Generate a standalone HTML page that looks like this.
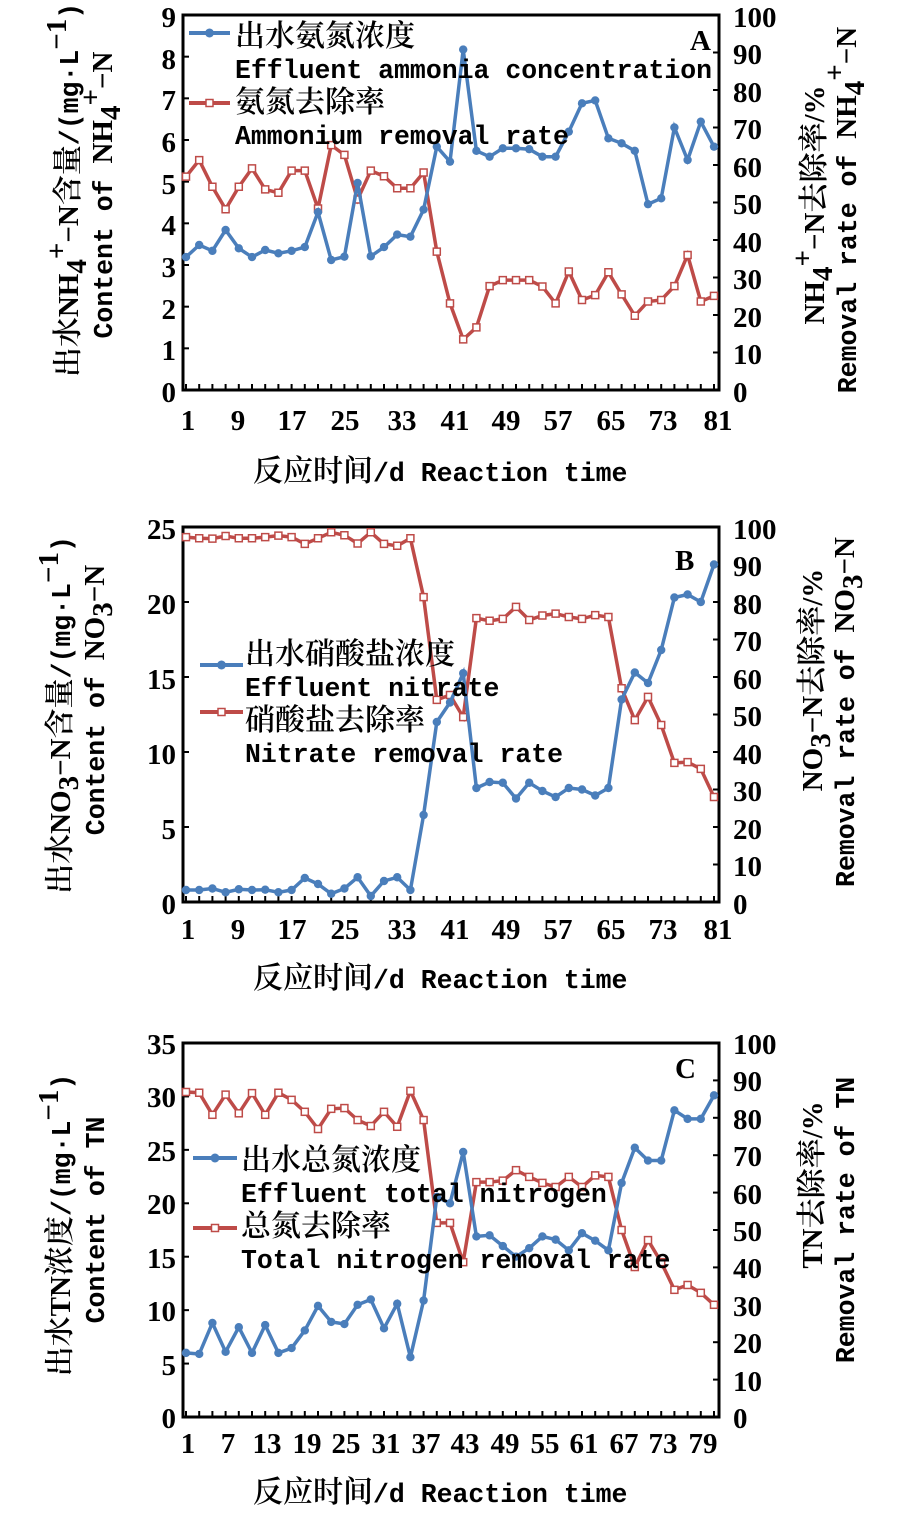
<!DOCTYPE html>
<html><head><meta charset="utf-8"><style>
body{margin:0;background:#fff}
svg text{fill:#000}
.t{font-family:"Liberation Serif",serif;font-size:29px;font-weight:bold}
.cn{font-family:"Noto Serif CJK SC","Liberation Serif",serif;font-size:30px;font-weight:600}
.en{font-family:"Liberation Mono",monospace;font-size:26.5px;font-weight:bold}
</style></head><body>
<svg id="s" width="909" height="1512" viewBox="0 0 909 1512" xmlns="http://www.w3.org/2000/svg">
<g id="plots"></g>
<g class="t" text-anchor="end">
<text x="176" y="27">9</text><text x="176" y="69">8</text><text x="176" y="110">7</text><text x="176" y="152">6</text><text x="176" y="194">5</text><text x="176" y="235">4</text><text x="176" y="277">3</text><text x="176" y="319">2</text><text x="176" y="360">1</text><text x="176" y="402">0</text>
</g>
<g class="t">
<text x="733" y="27">100</text><text x="733" y="64">90</text><text x="733" y="102">80</text><text x="733" y="139">70</text><text x="733" y="177">60</text><text x="733" y="214">50</text><text x="733" y="252">40</text><text x="733" y="289">30</text><text x="733" y="327">20</text><text x="733" y="364">10</text><text x="733" y="402">0</text>
</g>
<g class="t" text-anchor="middle">
<text x="188" y="430">1</text><text x="238" y="430">9</text><text x="292" y="430">17</text><text x="345" y="430">25</text><text x="402" y="430">33</text><text x="455" y="430">41</text><text x="506" y="430">49</text><text x="558" y="430">57</text><text x="611" y="430">65</text><text x="663" y="430">73</text><text x="718" y="430">81</text>
</g>
<text x="253" y="481"><tspan class="cn">反应时间</tspan><tspan class="en">/d Reaction time</tspan></text>
<text class="cn" x="235" y="46">出水氨氮浓度</text>
<text class="en" x="235" y="78">Effluent ammonia concentration</text>
<text class="cn" x="235" y="112">氨氮去除率</text>
<text class="en" x="235" y="144">Ammonium removal rate</text>
<text class="t" x="690" y="50">A</text>
<text transform="translate(78,190) rotate(-90)" text-anchor="middle"><tspan class="cn">出水</tspan><tspan class="t">NH</tspan><tspan class="t" font-size="17" dy="8">4</tspan><tspan class="t" font-size="17" dy="-20">+</tspan><tspan class="t" dy="12">−N</tspan><tspan class="cn">含量</tspan><tspan class="en">/(mg·L</tspan><tspan class="t" font-size="17" dy="-12">−1</tspan><tspan class="en" dy="12">)</tspan></text>
<text transform="translate(112,195) rotate(-90)" text-anchor="middle"><tspan class="en">Content of </tspan><tspan class="t">NH</tspan><tspan class="t" font-size="17" dy="8">4</tspan><tspan class="t" font-size="17" dy="-20">+</tspan><tspan class="t" dy="12">−N</tspan></text>
<text transform="translate(824,205) rotate(-90)" text-anchor="middle"><tspan class="t">NH</tspan><tspan class="t" font-size="17" dy="8">4</tspan><tspan class="t" font-size="17" dy="-20">+</tspan><tspan class="t" dy="12">−N</tspan><tspan class="cn">去除率</tspan><tspan class="t">/%</tspan></text>
<text transform="translate(856,210) rotate(-90)" text-anchor="middle"><tspan class="en">Removal rate of </tspan><tspan class="t">NH</tspan><tspan class="t" font-size="17" dy="8">4</tspan><tspan class="t" font-size="17" dy="-20">+</tspan><tspan class="t" dy="12">−N</tspan></text>

<g class="t" text-anchor="end">
<text x="176" y="539">25</text><text x="176" y="614">20</text><text x="176" y="689">15</text><text x="176" y="764">10</text><text x="176" y="839">5</text><text x="176" y="914">0</text>
</g>
<g class="t">
<text x="733" y="539">100</text><text x="733" y="576">90</text><text x="733" y="614">80</text><text x="733" y="651">70</text><text x="733" y="689">60</text><text x="733" y="726">50</text><text x="733" y="764">40</text><text x="733" y="801">30</text><text x="733" y="839">20</text><text x="733" y="876">10</text><text x="733" y="914">0</text>
</g>
<g class="t" text-anchor="middle">
<text x="188" y="939">1</text><text x="238" y="939">9</text><text x="292" y="939">17</text><text x="345" y="939">25</text><text x="402" y="939">33</text><text x="455" y="939">41</text><text x="506" y="939">49</text><text x="558" y="939">57</text><text x="611" y="939">65</text><text x="663" y="939">73</text><text x="718" y="939">81</text>
</g>
<text x="253" y="988"><tspan class="cn">反应时间</tspan><tspan class="en">/d Reaction time</tspan></text>
<text class="cn" x="245" y="664">出水硝酸盐浓度</text>
<text class="en" x="245" y="696">Effluent nitrate</text>
<text class="cn" x="245" y="730">硝酸盐去除率</text>
<text class="en" x="245" y="762">Nitrate removal rate</text>
<text class="t" x="675" y="570">B</text>
<text transform="translate(70,715) rotate(-90)" text-anchor="middle"><tspan class="cn">出水</tspan><tspan class="t">NO</tspan><tspan class="t" font-size="17" dy="8">3</tspan><tspan class="t" dy="-8">−N</tspan><tspan class="cn">含量</tspan><tspan class="en">/(mg·L</tspan><tspan class="t" font-size="17" dy="-12">−1</tspan><tspan class="en" dy="12">)</tspan></text>
<text transform="translate(104,700) rotate(-90)" text-anchor="middle"><tspan class="en">Content of </tspan><tspan class="t">NO</tspan><tspan class="t" font-size="17" dy="8">3</tspan><tspan class="t" dy="-8">−N</tspan></text>
<text transform="translate(822,680) rotate(-90)" text-anchor="middle"><tspan class="t">NO</tspan><tspan class="t" font-size="17" dy="8">3</tspan><tspan class="t" dy="-8">−N</tspan><tspan class="cn">去除率</tspan><tspan class="t">/%</tspan></text>
<text transform="translate(854,712) rotate(-90)" text-anchor="middle"><tspan class="en">Removal rate of </tspan><tspan class="t">NO</tspan><tspan class="t" font-size="17" dy="8">3</tspan><tspan class="t" dy="-8">−N</tspan></text>

<g class="t" text-anchor="end">
<text x="176" y="1054">35</text><text x="176" y="1107">30</text><text x="176" y="1161">25</text><text x="176" y="1214">20</text><text x="176" y="1268">15</text><text x="176" y="1321">10</text><text x="176" y="1375">5</text><text x="176" y="1428">0</text>
</g>
<g class="t">
<text x="733" y="1054">100</text><text x="733" y="1091">90</text><text x="733" y="1129">80</text><text x="733" y="1166">70</text><text x="733" y="1204">60</text><text x="733" y="1241">50</text><text x="733" y="1278">40</text><text x="733" y="1316">30</text><text x="733" y="1353">20</text><text x="733" y="1391">10</text><text x="733" y="1428">0</text>
</g>
<g class="t" text-anchor="middle">
<text x="188" y="1453">1</text><text x="228" y="1453">7</text><text x="267" y="1453">13</text><text x="307" y="1453">19</text><text x="346" y="1453">25</text><text x="386" y="1453">31</text><text x="426" y="1453">37</text><text x="465" y="1453">43</text><text x="505" y="1453">49</text><text x="545" y="1453">55</text><text x="584" y="1453">61</text><text x="624" y="1453">67</text><text x="663" y="1453">73</text><text x="703" y="1453">79</text>
</g>
<text x="253" y="1502"><tspan class="cn">反应时间</tspan><tspan class="en">/d Reaction time</tspan></text>
<text class="cn" x="241" y="1170">出水总氮浓度</text>
<text class="en" x="241" y="1202">Effluent total nitrogen</text>
<text class="cn" x="241" y="1236">总氮去除率</text>
<text class="en" x="241" y="1268">Total nitrogen removal rate</text>
<text class="t" x="675" y="1078">C</text>
<text transform="translate(70,1225) rotate(-90)" text-anchor="middle"><tspan class="cn">出水</tspan><tspan class="t">TN</tspan><tspan class="cn">浓度</tspan><tspan class="en">/(mg·L</tspan><tspan class="t" font-size="17" dy="-12">−1</tspan><tspan class="en" dy="12">)</tspan></text>
<text transform="translate(104,1220) rotate(-90)" text-anchor="middle" class="en">Content of TN</text>
<text transform="translate(822,1185) rotate(-90)" text-anchor="middle"><tspan class="t">TN</tspan><tspan class="cn">去除率</tspan><tspan class="t">/%</tspan></text>
<text transform="translate(854,1220) rotate(-90)" text-anchor="middle" class="en">Removal rate of TN</text>
</svg>
<script>
var NS="http://www.w3.org/2000/svg",G=document.getElementById("plots");
function el(t,a){var e=document.createElementNS(NS,t);for(var k in a)e.setAttribute(k,a[k]);G.appendChild(e);return e;}
var BL="#4a7ebb",RD="#be4b48",X0=186,DX=13.2,L=183,R=719;
function X(i){return X0+i*DX;}
function panel(top,bot,lmax,lstep,ldiv,rdiv,blue,red,legB,legR){
 el("rect",{x:L,y:top,width:R-L,height:bot-top,fill:"none",stroke:"#000","stroke-width":3});
 var h=bot-top;
 for(var j=1;j<ldiv;j++){var y=top+h*j/ldiv;el("line",{x1:L,y1:y,x2:L+6,y2:y,stroke:"#000","stroke-width":2});}
 for(var j=1;j<rdiv;j++){var y=top+h*j/rdiv;el("line",{x1:R,y1:y,x2:R-6,y2:y,stroke:"#000","stroke-width":2});}
 for(var i=0;i<41;i++){el("line",{x1:X(i),y1:bot,x2:X(i),y2:bot-6,stroke:"#000","stroke-width":2});}
 var pb=blue.map(function(v,i){return X(i)+","+(bot-v/lmax*h).toFixed(1);}).join(" ");
 var pr=red.map(function(v,i){return X(i)+","+(bot-v/100*h).toFixed(1);}).join(" ");
 el("polyline",{points:pr,fill:"none",stroke:RD,"stroke-width":3.5});
 red.forEach(function(v,i){el("rect",{x:X(i)-3.5,y:bot-v/100*h-3.5,width:7,height:7,fill:"#fff",stroke:RD,"stroke-width":1.5});});
 el("polyline",{points:pb,fill:"none",stroke:BL,"stroke-width":3.5});
 blue.forEach(function(v,i){el("circle",{cx:X(i),cy:bot-v/lmax*h,r:4.2,fill:BL});});
 el("line",{x1:legB[0],y1:legB[2],x2:legB[1],y2:legB[2],stroke:BL,"stroke-width":4});
 el("circle",{cx:(legB[0]+legB[1])/2,cy:legB[2],r:4.5,fill:BL});
 el("line",{x1:legR[0],y1:legR[2],x2:legR[1],y2:legR[2],stroke:RD,"stroke-width":4});
 el("rect",{x:(legR[0]+legR[1])/2-3.5,y:legR[2]-3.5,width:7,height:7,fill:"#fff",stroke:RD,"stroke-width":1.5});
}
panel(15,390,9,1,9,10,
[3.19,3.48,3.34,3.84,3.4,3.19,3.36,3.28,3.34,3.43,4.27,3.12,3.2,4.97,3.21,3.43,3.73,3.68,4.33,5.84,5.48,8.17,5.74,5.6,5.8,5.8,5.78,5.6,5.6,6.2,6.88,6.95,6.04,5.92,5.74,4.46,4.6,6.3,5.52,6.44,5.84],
[56.9,61.3,54.2,48.2,54.2,59.1,53.5,52.6,58.5,58.5,48.4,65.3,62.7,50.8,58.5,57,53.8,53.8,58,36.9,23.1,13.5,16.7,27.7,29.3,29.3,29.3,27.6,23.1,31.6,24,25.3,31.4,25.5,19.8,23.6,24,27.7,36,23.6,25.1],
[189,230,33],[189,230,103]);
panel(527,902,25,5,5,10,
[0.8,0.8,0.9,0.65,0.85,0.8,0.82,0.65,0.8,1.6,1.2,0.55,0.9,1.65,0.4,1.4,1.65,0.8,5.8,12,13.3,15.25,7.6,8,7.95,6.9,7.95,7.4,7,7.6,7.5,7.1,7.6,13.5,15.3,14.6,16.8,20.3,20.5,20,22.5],
[97.3,97,96.9,97.6,97,97,97.3,97.7,97.3,95.5,97,98.6,97.8,95.6,98.6,95.5,95,97,81.3,53.9,55.2,49.3,75.7,75,75.5,78.7,75.2,76.4,76.9,76,75.5,76.5,76,57,48.5,54.7,47.2,37.1,37.3,35.5,28],
[200,243,665],[200,243,712]);
panel(1043,1417,35,5,7,10,
[6,5.9,8.8,6.1,8.4,6,8.6,6,6.45,8.1,10.4,8.9,8.7,10.5,11,8.3,10.6,5.6,10.9,20.6,20,24.8,16.9,17,16,15,15.8,16.9,16.6,15.6,17.2,16.5,15.6,21.9,25.2,24,24,28.7,27.9,27.9,30.1],
[86.9,86.7,80.8,86.2,81.2,86.6,80.8,86.7,84.8,81.6,77,82.4,82.6,79.4,77.8,81.6,77.6,87.2,79.4,51.9,51.9,41.4,62.8,62.8,63.2,66,64.2,62.6,61.5,64.2,61.5,64.6,64.2,50,40.1,47.3,41.4,34,35.3,33.2,30],
[193,237,1158],[193,237,1228]);
</script>
</body></html>
